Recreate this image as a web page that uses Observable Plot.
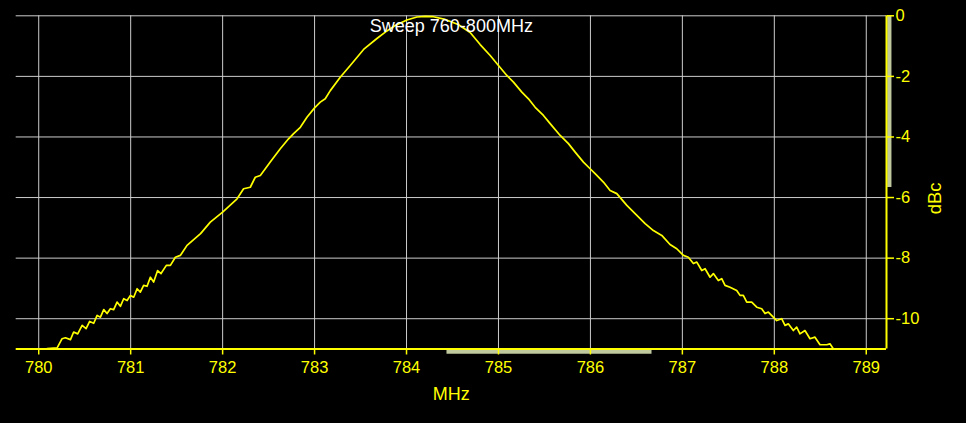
<!DOCTYPE html>
<html>
<head>
<meta charset="utf-8">
<script src="https://cdn.jsdelivr.net/npm/d3@7"></script>
<script src="https://cdn.jsdelivr.net/npm/@observablehq/plot@0.6"></script>
<style>
  html, body { margin: 0; padding: 0; background: #000; }
  #chart { width: 966px; height: 423px; overflow: hidden; }
</style>
</head>
<body>
<div id="chart"></div>
<script>
// ---- data ----
const title = "Sweep 760-800MHz";
const xLabel = "MHz";
const yLabel = "dBc";
const xTicks = [780, 781, 782, 783, 784, 785, 786, 787, 788, 789];
const yTicks = [0, -2, -4, -6, -8, -10];
const xDomain = [779.755, 789.22];
const yDomain = [-11, 0];
// scroll-bar style indicators (data units)
const xBarRange = [784.44, 786.67];
const yBarRange = [0, -5.67];

const mhz = [
  780.091, 780.200, 780.254, 780.290, 780.345, 780.380, 780.424, 780.472, 780.515, 780.554,
  780.598, 780.635, 780.671, 780.707, 780.743, 780.779, 780.815, 780.852, 780.888, 780.924,
  780.961, 780.997, 781.033, 781.070, 781.105, 781.141, 781.178, 781.214, 781.250, 781.293,
  781.330, 781.388, 781.432, 781.486, 781.540, 781.576,
  781.613, 781.760, 781.866, 782.000, 782.157, 782.228, 782.301, 782.355, 782.410, 782.518,
  782.627, 782.717, 782.772, 782.845, 782.917, 783.000, 783.062, 783.116, 783.171, 783.279,
  783.388, 783.533, 783.678, 783.787, 783.877, 784.004, 784.113, 784.203, 784.293, 784.420,
  784.562, 784.692, 784.801, 784.910, 785.000, 785.091, 785.163, 785.254, 785.326, 785.399,
  785.489, 785.562, 785.671, 785.761, 785.834, 785.924, 785.997, 786.051, 786.141, 786.214,
  786.287, 786.396, 786.486, 786.595, 786.685, 786.776, 786.866, 786.939,
  787.011, 787.065, 787.120, 787.157, 787.211,
  787.247, 787.301, 787.337, 787.391, 787.428, 787.464, 787.518, 787.591, 787.627, 787.663,
  787.700, 787.754, 787.809, 787.863, 787.899, 787.935, 787.989, 788.026, 788.080, 788.116,
  788.152, 788.207, 788.243, 788.279, 788.333, 788.388, 788.442, 788.497, 788.570, 788.605,
  788.641
];
const dbc = [
  -10.99, -10.96, -10.66, -10.63, -10.69, -10.44, -10.50, -10.22, -10.33, -10.09,
  -10.15, -9.89, -9.95, -9.70, -9.83, -9.67, -9.70, -9.45, -9.59, -9.34,
  -9.40, -9.23, -9.29, -9.01, -9.12, -8.90, -8.93, -8.63, -8.79, -8.41,
  -8.51, -8.24, -8.24, -7.97, -7.91, -7.75,
  -7.58, -7.19, -6.81, -6.48, -6.04, -5.71, -5.66, -5.33, -5.27, -4.83,
  -4.39, -4.06, -3.89, -3.68, -3.35, -3.04, -2.85, -2.74, -2.47, -2.03,
  -1.64, -1.11, -0.75, -0.50, -0.32, -0.14, -0.04, -0.02, -0.03, -0.12,
  -0.29, -0.55, -0.95, -1.31, -1.64, -1.97, -2.19, -2.52, -2.74, -3.02,
  -3.29, -3.56, -3.95, -4.22, -4.50, -4.83, -5.05, -5.21, -5.49, -5.77,
  -5.87, -6.26, -6.53, -6.86, -7.09, -7.25, -7.55, -7.69,
  -7.91, -7.97, -8.18, -8.13, -8.41,
  -8.35, -8.63, -8.51, -8.74, -8.68, -8.90, -8.96, -9.07, -9.23, -9.23,
  -9.45, -9.45, -9.62, -9.67, -9.83, -9.78, -9.95, -10.06, -10.00, -10.22,
  -10.17, -10.39, -10.28, -10.50, -10.39, -10.66, -10.61, -10.86, -10.86, -10.83,
  -10.99
];

const data = mhz.map((x, i) => ({mhz: x, dbc: dbc[i]}));

const YELLOW = "#ffff00";
const GRID = "#cccccc";
const BAR = "#bfc99d";

const chart = Plot.plot({
  width: 966,
  height: 423,
  marginLeft: 15.7,
  marginRight: 80,
  marginTop: 15.3,
  marginBottom: 74.5,
  style: {
    background: "#000",
    color: YELLOW,
    fontFamily: "'Liberation Sans', Arial, sans-serif"
  },
  x: {domain: xDomain},
  y: {domain: yDomain},
  marks: [
    Plot.gridX(xTicks, {stroke: GRID, strokeOpacity: 1, strokeWidth: 1}),
    Plot.gridY(yTicks, {stroke: GRID, strokeOpacity: 1, strokeWidth: 1}),
    Plot.ruleY([yDomain[0]], {x1: xBarRange[0], x2: xBarRange[1], stroke: BAR, strokeWidth: 4.3, dy: 2.7}),
    Plot.ruleX([xDomain[1]], {y1: yBarRange[0], y2: yBarRange[1], stroke: BAR, strokeWidth: 4.3, dx: 2.8}),
    Plot.ruleY([yDomain[0]], {stroke: YELLOW, strokeWidth: 2}),
    Plot.ruleX([xDomain[1]], {stroke: YELLOW, strokeWidth: 2}),
    Plot.line(data, {x: "mhz", y: "dbc", stroke: YELLOW, strokeWidth: 1.7}),
    Plot.axisX({
      ticks: xTicks, tickFormat: d => String(d), anchor: "bottom",
      tickSize: 6, tickPadding: 6, fontSize: 16.5, stroke: YELLOW, fill: YELLOW,
      strokeWidth: 1.5, label: null
    }),
    Plot.axisY({
      ticks: yTicks, tickFormat: d => String(d), anchor: "right",
      tickSize: 7, tickPadding: 2, fontSize: 16.5, stroke: YELLOW, fill: YELLOW,
      strokeWidth: 1.5, label: null
    }),
    Plot.text([title], {frameAnchor: "top", dy: 10.6, fill: "#ffffff", fontSize: 18, lineAnchor: "middle"}),
    Plot.text([xLabel], {frameAnchor: "bottom", dy: 44.8, fill: YELLOW, fontSize: 18, lineAnchor: "middle"}),
    Plot.text([yLabel], {frameAnchor: "right", dx: 49, rotate: -90, fill: YELLOW, fontSize: 18.5, lineAnchor: "middle"})
  ]
});
document.getElementById("chart").appendChild(chart);
</script>
</body>
</html>
